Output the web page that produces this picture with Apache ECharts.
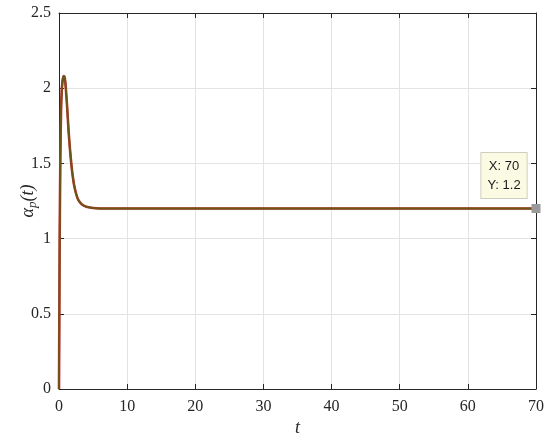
<!DOCTYPE html>
<html><head><meta charset="utf-8">
<script src="https://cdn.jsdelivr.net/npm/echarts@6/dist/echarts.min.js"></script>
<style>html,body{margin:0;padding:0;background:#fff}#c{width:550px;height:440px}</style>
</head><body><div id="c"></div>
<script>
const tValues = [0,0.05,0.1,0.2,0.3,0.4,0.5,0.6,0.7,0.8,0.9,1.0,1.2,1.4,1.6,1.8,2.0,2.2,2.5,2.8,3.2,3.6,4,5,6,8,10,15,20,30,40,50,60,70];
const alphaValues = [0,0.5,1.0,1.55,1.85,1.98,2.04,2.07,2.08,2.075,2.05,2.0,1.87,1.72,1.6,1.5,1.42,1.36,1.3,1.26,1.235,1.22,1.212,1.203,1.2,1.2,1.2,1.2,1.2,1.2,1.2,1.2,1.2,1.2];
const xTicks = [0,10,20,30,40,50,60,70];
const yTicks = [0,0.5,1,1.5,2,2.5];
const tipPoint = [70, 1.2];

const data = tValues.map((t,i)=>[t, alphaValues[i]]);
const serif = '"Liberation Serif","DejaVu Serif",serif';
const chart = echarts.init(document.getElementById('c'), null, {renderer:'canvas'});
const axisCommon = {
  type:'value',
  axisLine:{show:true,onZero:false,lineStyle:{color:'#262626',width:1}},
  axisTick:{show:true,inside:true,length:5,lineStyle:{color:'#262626'}},
  splitLine:{show:false},
  axisLabel:{show:false}
};
chart.setOption({
  animation:false,
  grid:{left:59,right:14,top:13,bottom:51,containLabel:false,outerBoundsMode:'none'},
  xAxis:[
    Object.assign({}, axisCommon, {
      min:xTicks[0], max:xTicks[xTicks.length-1], interval:10, position:'bottom',
      splitLine:{show:true,lineStyle:{color:'#e3e3e3',width:1}},
      axisLabel:{show:true,color:'#262626',fontFamily:serif,fontSize:16,margin:10},
      name:'t', nameLocation:'middle', nameGap:30, nameMoveOverlap:false,
      nameTextStyle:{fontFamily:serif,fontStyle:'italic',fontSize:18,color:'#262626'}
    }),
    Object.assign({}, axisCommon, {min:xTicks[0], max:xTicks[xTicks.length-1], interval:10, position:'top'})
  ],
  yAxis:[
    Object.assign({}, axisCommon, {
      min:yTicks[0], max:yTicks[yTicks.length-1], interval:0.5, position:'left',
      splitLine:{show:true,lineStyle:{color:'#e3e3e3',width:1}},
      axisLabel:{show:true,color:'#262626',fontFamily:serif,fontSize:16,margin:8},
      name:'{a|α}{s|p}{a|(t)}', nameLocation:'middle', nameGap:20, nameRotate:90, nameMoveOverlap:false,
      nameTextStyle:{rich:{
        a:{fontFamily:serif,fontStyle:'italic',fontSize:18,color:'#262626'},
        s:{fontFamily:serif,fontStyle:'italic',fontSize:13,color:'#262626',verticalAlign:'bottom',padding:[8,0,0,0]}
      }}
    }),
    Object.assign({}, axisCommon, {min:yTicks[0], max:yTicks[yTicks.length-1], interval:0.5, position:'right'})
  ],
  series:[
    {type:'line',data:data,smooth:0.25,showSymbol:false,lineStyle:{color:'#b8322a',width:2.6},z:2},
    {type:'line',data:data,smooth:0.25,showSymbol:false,lineStyle:{color:'#6b5518',width:1.8},z:3,
     markPoint:{
       symbol:'rect', symbolSize:9, itemStyle:{color:'#9a9a9a'},
       data:[{coord:tipPoint,
         label:{show:true,position:'inside',offset:[-32,-33],
           formatter:'X: '+tipPoint[0]+'\nY: '+tipPoint[1],
           fontFamily:'"Liberation Sans",Arial,sans-serif',fontSize:13,lineHeight:19,color:'#1a1a1a',
           backgroundColor:'#fbfbe3',borderColor:'#cfcfc0',borderWidth:1,padding:[4,6,3,6],align:'center',verticalAlign:'middle'}
       }]
     }}
  ]
});
</script></body></html>
